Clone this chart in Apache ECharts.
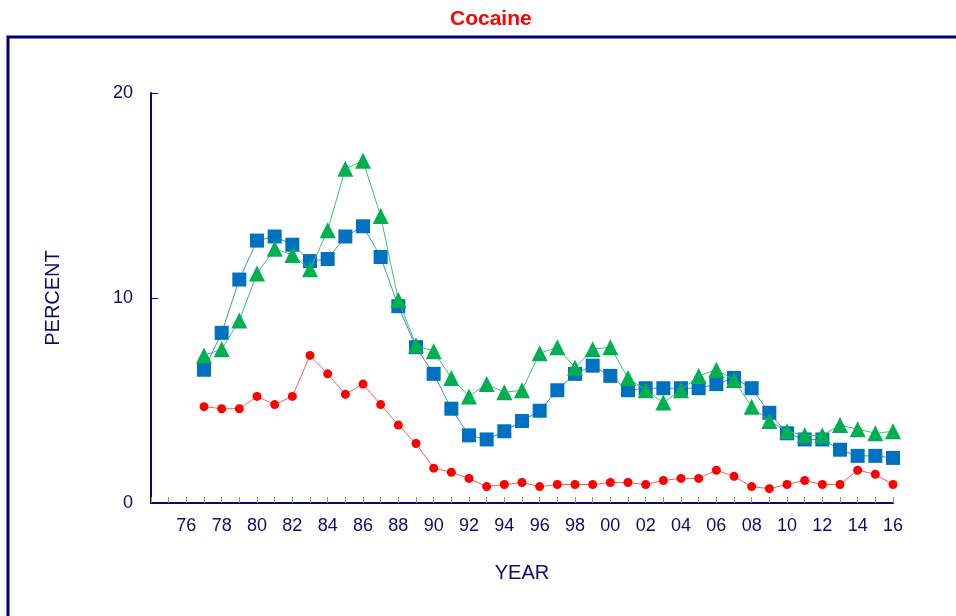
<!DOCTYPE html>
<html>
<head>
<meta charset="utf-8">
<script src="https://cdn.jsdelivr.net/npm/echarts@6/dist/echarts.min.js"></script>
<style>
  html, body { margin: 0; padding: 0; background: #fff; }
  #chart { width: 956px; height: 616px; }
</style>
</head>
<body>
<div id="chart"></div>
<script>
// 年份 (74 - 16)
var years = ['74','75','76','77','78','79','80','81','82','83','84','85','86','87','88','89',
  '90','91','92','93','94','95','96','97','98','99','00','01','02','03','04','05','06','07',
  '08','09','10','11','12','13','14','15','16'];

// 蓝色方块
var blueSquares = [null, null, null, 6.5, 8.3, 10.9, 12.8, 13.0, 12.6, 11.8, 11.9, 13.0, 13.5, 12.0, 9.6, 7.6,
  6.3, 4.6, 3.3, 3.1, 3.5, 4.0, 4.5, 5.5, 6.3, 6.7, 6.2, 5.5, 5.6, 5.6, 5.6, 5.6, 5.8, 6.1,
  5.6, 4.4, 3.4, 3.1, 3.1, 2.6, 2.3, 2.3, 2.2];

// 绿色三角
var greenTriangles = [null, null, null, 7.2, 7.5, 8.9, 11.2, 12.4, 12.1, 11.4, 13.3, 16.3, 16.7, 14.0, 9.9, 7.7,
  7.4, 6.1, 5.2, 5.8, 5.4, 5.5, 7.3, 7.6, 6.6, 7.5, 7.6, 6.1, 5.5, 4.9, 5.5, 6.2, 6.5, 6.0,
  4.7, 4.0, 3.5, 3.3, 3.3, 3.8, 3.6, 3.4, 3.5];

// 红色圆点
var redCircles = [null, null, null, 4.7, 4.6, 4.6, 5.2, 4.8, 5.2, 7.2, 6.3, 5.3, 5.8, 4.8, 3.8, 2.9,
  1.7, 1.5, 1.2, 0.8, 0.9, 1.0, 0.8, 0.9, 0.9, 0.9, 1.0, 1.0, 0.9, 1.1, 1.2, 1.2, 1.6, 1.3,
  0.8, 0.7, 0.9, 1.1, 0.9, 0.9, 1.6, 1.4, 0.9];

var yTicks = [0, 10, 20];

var navy = '#0a0a6e';

var chartDom = document.getElementById('chart');
var myChart = echarts.init(chartDom);

var option = {
  animation: false,
  title: {
    text: 'Cocaine',
    left: 445,
    top: 4,
    textStyle: {
      color: '#ff0000',
      fontSize: 21,
      fontWeight: 'bold',
      fontFamily: 'Liberation Sans'
    }
  },
  grid: {
    left: 151,
    right: 63,
    top: 93,
    bottom: 113
  },
  xAxis: {
    type: 'category',
    boundaryGap: false,
    data: years,
    name: 'YEAR',
    nameLocation: 'middle',
    nameGap: 60,
    nameTextStyle: {
      color: navy,
      fontSize: 20,
      fontFamily: 'Liberation Sans'
    },
    axisLine: {
      lineStyle: { color: navy, width: 2 }
    },
    axisTick: {
      inside: true,
      length: 6,
      interval: 0,
      lineStyle: { color: '#8c8cc0', width: 1 }
    },
    axisLabel: {
      interval: 0,
      margin: 14,
      color: navy,
      fontSize: 18,
      fontFamily: 'Liberation Sans',
      formatter: function (v, idx) {
        // 只显示 76 起的偶数年
        if (idx < 2 || idx % 2 !== 0) return '';
        return v;
      }
    },
    splitLine: { show: false }
  },
  yAxis: {
    type: 'value',
    min: yTicks[0],
    max: yTicks[yTicks.length - 1],
    interval: 10,
    name: 'PERCENT',
    nameLocation: 'middle',
    nameGap: 88,
    nameTextStyle: {
      color: navy,
      fontSize: 20,
      fontFamily: 'Liberation Sans'
    },
    axisLine: {
      show: true,
      lineStyle: { color: navy, width: 2 }
    },
    axisTick: {
      show: true,
      inside: true,
      length: 7,
      lineStyle: { color: navy, width: 1 }
    },
    axisLabel: {
      margin: 18,
      color: navy,
      fontSize: 18,
      fontFamily: 'Liberation Sans'
    },
    splitLine: { show: false }
  },
  series: [
    {
      name: 'Blue',
      type: 'line',
      data: blueSquares,
      symbol: 'rect',
      symbolSize: 14,
      color: '#0070c0',
      lineStyle: { width: 1, color: '#3d8fd6' },
      z: 2
    },
    {
      name: 'Green',
      type: 'line',
      data: greenTriangles,
      symbol: 'triangle',
      symbolSize: 16,
      color: '#00b050',
      lineStyle: { width: 1, color: '#3cc274' },
      z: 3
    },
    {
      name: 'Red',
      type: 'line',
      data: redCircles,
      symbol: 'circle',
      symbolSize: 9,
      color: '#ff0000',
      lineStyle: { width: 1, color: '#ff5a5a' },
      z: 4
    }
  ],
  graphic: {
    elements: [
      {
        // 外框
        type: 'rect',
        shape: { x: 8, y: 37, width: 960, height: 600 },
        style: { fill: 'none', stroke: '#000070', lineWidth: 3 },
        silent: true
      }
    ]
  }
};

myChart.setOption(option);
window.addEventListener('resize', function () {
  myChart.resize();
});
</script>
</body>
</html>
